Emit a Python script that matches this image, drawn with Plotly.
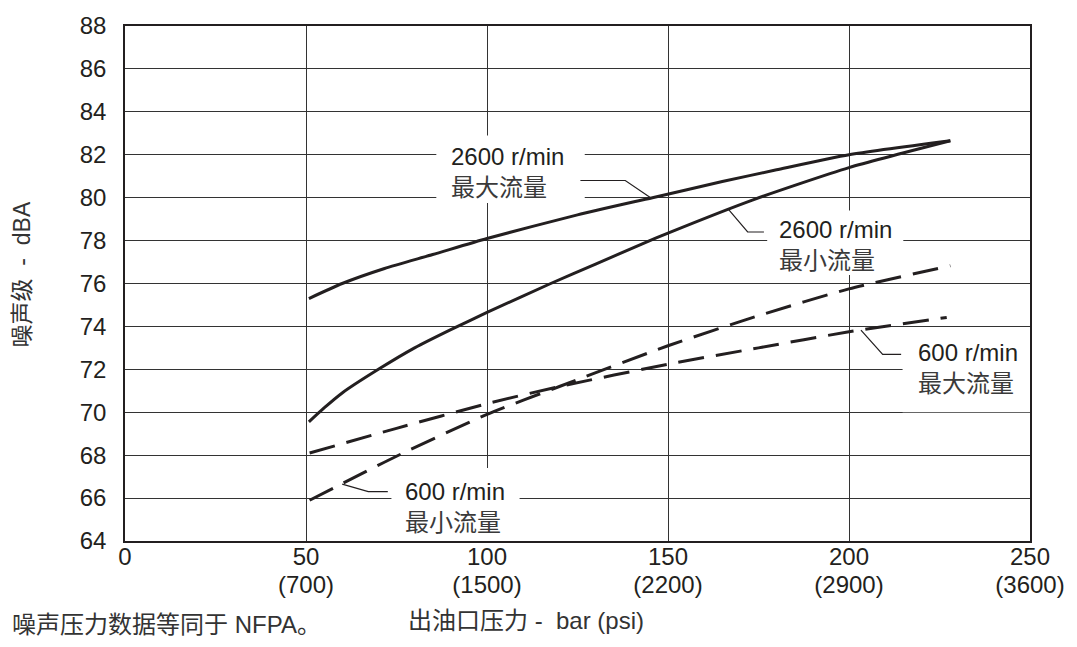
import plotly.graph_objects as go

# ---- data (outlet pressure in bar, noise level in dBA) ----
max2600_x = [50.8, 60, 71.7, 85, 100, 125, 145.7, 165, 180, 200, 228]
max2600_y = [75.3, 76.0, 76.7, 77.35, 78.1, 79.2, 80.0, 80.75, 81.3, 82.0, 82.65]

min2600_x = [50.8, 55, 60, 70, 80, 90, 100, 117.6, 130, 142.9, 150, 173.5, 200, 228]
min2600_y = [69.55, 70.2, 70.9, 72.0, 73.0, 73.85, 74.65, 76.0, 76.9, 77.85, 78.35, 79.9, 81.4, 82.65]

min600_x = [51, 75, 100, 120, 150, 175, 200, 228]
min600_y = [65.9, 67.95, 69.9, 71.2, 73.1, 74.5, 75.75, 76.83]

max600_x = [51, 75, 100, 120, 150, 175, 200, 227]
max600_y = [68.1, 69.25, 70.4, 71.2, 72.24, 73.0, 73.75, 74.42]

x_tickvals = [0, 50, 100, 150, 200, 250]
x_ticktext = ["0", "50", "100", "150", "200", "250"]
psi_tickvals = [50, 100, 150, 200, 250]
psi_ticktext = ["(700)", "(1500)", "(2200)", "(2900)", "(3600)"]
y_tickvals = list(range(64, 89, 2))

INK = "#231f20"
LATIN = "Liberation Sans, Arial, Noto Sans CJK SC"

fig = go.Figure()

def curve(x, y, dash):
    fig.add_trace(go.Scatter(
        x=x, y=y, mode="lines", showlegend=False, hoverinfo="skip",
        line=dict(color=INK, width=3, shape="spline", smoothing=0.6, dash=dash)))

curve(max2600_x, max2600_y, "solid")
curve(min2600_x, min2600_y, "solid")
curve(min600_x, min600_y, "26px,12px")
curve(max600_x, max600_y, "26px,12px")

# invisible trace to host the psi tick axis
fig.add_trace(go.Scatter(x=[0, 250], y=[64, 64], xaxis="x2", mode="none",
                         showlegend=False, hoverinfo="skip"))

# ---- label boxes (white) and leader lines ----
boxes = [
    (86, 127, 79.75, 82.9),
    (177.4, 215, 76.4, 79.4),
    (214.8, 252, 70.0, 73.85),
    (73.6, 109, 64.0, 67.4),
]
shapes = []
for x0, x1, y0, y1 in boxes:
    shapes.append(dict(type="rect", xref="x", yref="y", x0=x0, x1=x1, y0=y0, y1=y1,
                       fillcolor="white", line=dict(width=0), layer="between"))

leaders = [
    [(125.8, 80.8), (138.2, 80.8), (145.2, 80.0)],
    [(176.5, 78.4), (172.0, 78.4), (166.7, 79.45)],
    [(214.4, 72.7), (209.3, 72.7), (203.3, 73.83)],
    [(72.6, 66.3), (67.2, 66.3), (60.0, 66.65)],
]
for pts in leaders:
    path = "M " + " L ".join(f"{px},{py}" for px, py in pts)
    shapes.append(dict(type="path", xref="x", yref="y", path=path,
                       line=dict(color=INK, width=1.2), layer="above"))

labels = [
    (89.4, 81.17, "2600 r/min", "最大流量"),
    (180.2, 77.75, "2600 r/min", "最小流量"),
    (218.4, 72.03, "600 r/min", "最大流量"),
    (76.7, 65.56, "600 r/min", "最小流量"),
]
annotations = []
for lx, ly, t1, t2 in labels:
    text = (t1 + "<br><span style='font-family:Noto Sans CJK SC;color:#3a3a3a'>"
            + t2 + "</span>")
    annotations.append(dict(x=lx, y=ly, xref="x", yref="y", text=text, showarrow=False,
                            xanchor="left", yanchor="middle", align="left",
                            font=dict(family=LATIN, size=24, color=INK)))

# axis title & footnote
annotations.append(dict(x=-0.1136, y=0.518, xref="paper", yref="paper",
                        text="噪声级\u00a0 -\u00a0 dBA", textangle=-90, showarrow=False,
                        xanchor="center", yanchor="middle",
                        font=dict(family=LATIN, size=23, color="#333333")))
annotations.append(dict(x=0.311, y=-0.155, xref="paper", yref="paper",
                        text="出油口压力 -\u00a0 bar (psi)", showarrow=False,
                        xanchor="left", yanchor="middle",
                        font=dict(family=LATIN, size=24, color="#333333")))
annotations.append(dict(x=-0.1268, y=-0.163, xref="paper", yref="paper",
                        text="噪声压力数据等同于 NFPA。", showarrow=False,
                        xanchor="left", yanchor="middle",
                        font=dict(family=LATIN, size=24, color="#333333")))

fig.update_layout(
    width=1077, height=647,
    margin=dict(l=125, r=45, t=15, b=106),
    paper_bgcolor="white", plot_bgcolor="white",
    shapes=shapes, annotations=annotations,
    xaxis=dict(range=[0, 250], tickvals=x_tickvals, ticktext=x_ticktext,
               showgrid=True, gridcolor="#333333", gridwidth=1.2,
               showline=True, linecolor=INK, linewidth=1.5, mirror=True,
               zeroline=False, ticks="", ticklabelstandoff=-7,
               tickfont=dict(family=LATIN, size=24, color=INK)),
    xaxis2=dict(range=[0, 250], overlaying="x", anchor="y", side="bottom",
                tickvals=psi_tickvals, ticktext=psi_ticktext, showgrid=False,
                showline=False, zeroline=False, ticks="", ticklabelstandoff=27,
                tickfont=dict(family=LATIN, size=24, color=INK)),
    yaxis=dict(range=[64, 88], tickvals=y_tickvals,
               showgrid=True, gridcolor="#333333", gridwidth=1.2,
               showline=True, linecolor=INK, linewidth=1.5, mirror=True,
               zeroline=False, ticks="", ticklabelstandoff=12,
               tickfont=dict(family=LATIN, size=24, color=INK)),
)

fig.write_html("out.html")
